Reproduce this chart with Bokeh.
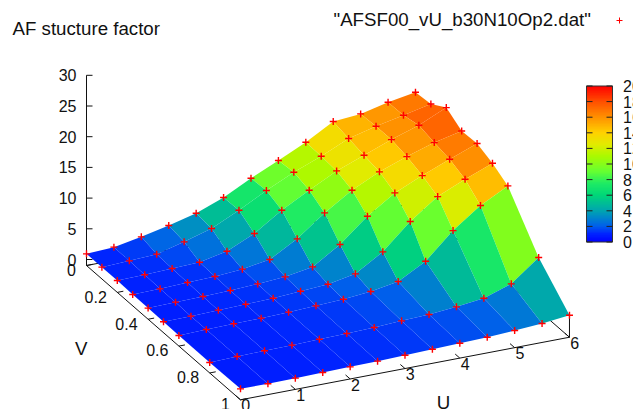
from bokeh.plotting import figure
from bokeh.embed import file_html
from bokeh.resources import INLINE
from bokeh.core.properties import value
from bokeh.models import LinearColorMapper
import numpy as np

# ---- data -------------------------------------------------------------
U = [0, 0.5, 1, 1.5, 2, 2.5, 3, 3.5, 4, 4.5, 5, 5.5, 6]
V = [0, 0.1, 0.2, 0.3, 0.4, 0.5, 0.6, 0.8, 1.0]
Z_V00 = [.92, 1.16, 1.99, 2.99, 4.14, 5.85, 8.14, 10.17, 12.31, 14.82, 15.22, 16.27, 17.05]
Z_V01 = [.94, 1.12, 1.36, 2.51, 3.83, 5.97, 8.32, 10.46, 12.21, 14.24, 15.40, 16.34, 17.33]
Z_V02 = [.96, 1.03, 1.21, 1.39, 2.33, 4.36, 7.31, 9.71, 12.01, 13.71, 15.41, 16.90, 18.92]
Z_V03 = [.86, .93, 1.12, 1.24, 1.59, 2.31, 4.83, 8.21, 11.05, 13.19, 14.83, 16.26, 17.31]
Z_V04 = [.83, .95, 1.03, 1.15, 1.38, 1.68, 2.45, 5.24, 9.01, 11.95, 13.92, 15.74, 17.44]
Z_V05 = [.79, .86, .99, 1.11, 1.24, 1.53, 1.82, 2.65, 5.39, 9.47, 12.69, 14.67, 16.42]
Z_V06 = [.75, .87, .95, 1.02, 1.15, 1.33, 1.56, 1.96, 2.74, 5.20, 9.34, 12.57, 14.92]
Z_V08 = [.73, .85, .93, 1.00, 1.12, 1.20, 1.32, 1.56, 1.74, 2.14, 2.70, 4.19, 7.62]
Z_V10 = [.81, .78, .85, .92, .99, 1.07, 1.19, 1.32, 1.45, 1.57, 1.81, 2.10, 2.61]
Z_ROWS = [Z_V00, Z_V01, Z_V02, Z_V03, Z_V04, Z_V05, Z_V06, Z_V08, Z_V10]
U_TICKS = [0, 1, 2, 3, 4, 5, 6]
V_TICKS = [0, 0.2, 0.4, 0.6, 0.8, 1]
V_TICK_LABELS = ["0", "0.2", "0.4", "0.6", "0.8", "1"]
Z_TICKS = [0, 5, 10, 15, 20, 25, 30]
CB_TICKS = [0, 2, 4, 6, 8, 10, 12, 14, 16, 18, 20]
TITLE = "AF stucture factor"
KEY = '"AFSF00_vU_b30N10Op2.dat"'

# palette stops (cb value, r, g, b)
STOPS = [(0, 0, 0, 255), (1, 0, 35, 255), (2, 0, 95, 235), (4, 0, 165, 175), (6, 0, 215, 120), (7.5, 30, 235, 100),
         (9, 100, 255, 50), (11, 170, 250, 0), (12.5, 225, 235, 0), (14, 255, 210, 0), (16, 255, 145, 0),
         (18, 255, 80, 0), (20, 255, 0, 0)]
SV = [s[0] for s in STOPS]

def colour_rgb(z):
    return tuple(int(round(np.interp(z, SV, [s[i] for s in STOPS]))) for i in (1, 2, 3))

def to_hex(c):
    return "#%02x%02x%02x" % c

# 3-D view projection (orthographic) to page pixels
def px(u, v):
    return 86 + 54.83 * u + 154.0 * v

def py(u, v, z):
    return 259 - 10.43 * u + 134.3 * v - 6.14 * z

ZBASE = -0.98
W, H = 633, 409
p = figure(width=W, height=H, x_range=(0, 633), y_range=(409, 0), output_backend="svg",
           toolbar_location=None, min_border=0)
p.axis.visible = False
p.grid.visible = False
p.outline_line_color = None
p.background_fill_color = "white"
FONT = value("Liberation Sans")
TICK_SIZE = "16px"
LABEL_SIZE = "18.7px"
INK = "#111111"

# base frame
AX = "#111111"
for (u0, v0, u1, v1) in [(0, 0, 0, 1), (0, 1, 6, 1), (6, 1, 6, 0), (6, 0, 0, 0)]:
    p.line([px(u0, v0), px(u1, v1)], [py(u0, v0, ZBASE), py(u1, v1, ZBASE)], line_color=AX, line_width=1)
p.line([px(0, 0), px(0, 0)], [py(0, 0, ZBASE), py(0, 0, 30)], line_color=AX, line_width=1)
p.line([px(6, 1), px(6, 1)], [py(6, 1, ZBASE), py(6, 1, 2.61)], line_color=AX, line_width=1)

# ticks
for z in Z_TICKS:
    p.line([px(0, 0), px(0, 0) + 6], [py(0, 0, z), py(0, 0, z)], line_color=AX, line_width=1)
    p.text([px(0, 0) - 10], [py(0, 0, z)], text=[str(z)], text_align="right", text_baseline="middle",
           text_font=FONT, text_font_size=TICK_SIZE, text_color=INK)
for v, lab in zip(V_TICKS, V_TICK_LABELS):
    p.line([px(0, v), px(0.11, v)], [py(0, v, ZBASE), py(0.11, v, ZBASE)], line_color=AX, line_width=1)
    p.text([px(0, v) - 10.5], [py(0, v, ZBASE) + 4.3], text=[lab], text_align="right", text_baseline="middle",
           text_font=FONT, text_font_size=TICK_SIZE, text_color=INK)
for u in U_TICKS:
    p.line([px(u, 1), px(u, 0.97)], [py(u, 1, ZBASE), py(u, 0.97, ZBASE)], line_color=AX, line_width=1)
    p.text([px(u, 1) + 5.3], [py(u, 1, ZBASE) + 5.6], text=[str(u)], text_align="center", text_baseline="middle",
           text_font=FONT, text_font_size=TICK_SIZE, text_color=INK)

# surface, painted from the far corner to the near corner
xs, ys, cols = [], [], []
nv, nu = len(V), len(U)
for j in range(nv - 1):
    for i in range(nu - 2, -1, -1):
        idx = [(i, j), (i + 1, j), (i + 1, j + 1), (i, j + 1)]
        xs.append([px(U[a], V[b]) for a, b in idx])
        ys.append([py(U[a], V[b], Z_ROWS[b][a]) for a, b in idx])
        cols.append(to_hex(colour_rgb(np.mean([Z_ROWS[b][a] for a, b in idx]))))
p.patches(xs, ys, fill_color=cols, line_color=None)

# data points
gx = [px(u, v) for j, v in enumerate(V) for u in U]
gy = [py(u, v, Z_ROWS[j][i]) for j, v in enumerate(V) for i, u in enumerate(U)]
p.scatter(gx, gy, marker="cross", size=7, line_color="#ff0000", line_width=1.4, fill_color=None)

# axis titles, title and key
p.text([443], [402], text=["U"], text_align="center", text_baseline="middle", text_font=FONT,
       text_font_size=LABEL_SIZE, text_color=INK)
p.text([80.7], [348], text=["V"], text_align="center", text_baseline="middle", text_font=FONT,
       text_font_size=LABEL_SIZE, text_color=INK)
p.text([12], [28], text=[TITLE], text_align="left", text_baseline="middle", text_font=FONT,
       text_font_size=LABEL_SIZE, text_color=INK)
p.text([333], [19], text=[KEY], text_align="left", text_baseline="middle", text_font=FONT,
       text_font_size=LABEL_SIZE, text_color=INK)
p.scatter([619], [20], marker="cross", size=6, line_color="#ff0000", line_width=1.0, fill_color=None)

# colour bar
CB_X0, CB_X1, CB_Y0, CB_Y1 = 586, 612, 241.5, 85.5
grad = np.linspace(20, 0, 256).reshape(256, 1)
pal = [to_hex(colour_rgb(z)) for z in np.linspace(0, 20, 256)]
p.image(image=[grad], x=CB_X0, y=CB_Y1, dw=CB_X1 - CB_X0, dh=CB_Y0 - CB_Y1,
        color_mapper=LinearColorMapper(palette=pal, low=0, high=20))
p.quad(left=[CB_X0], right=[CB_X1], top=[CB_Y1], bottom=[CB_Y0], fill_color=None, line_color="#333333", line_width=1)
for t in CB_TICKS:
    y = CB_Y0 + (CB_Y1 - CB_Y0) * t / 20
    p.line([CB_X0, CB_X0 + 6], [y, y], line_color="#222222", line_width=1)
    p.line([CB_X1 - 6, CB_X1], [y, y], line_color="#222222", line_width=1)
    p.text([622.5], [y], text=[str(t)], text_align="left", text_baseline="middle", text_font=FONT,
           text_font_size=TICK_SIZE, text_color=INK)

open("out.html", "w").write(file_html(p, INLINE))
